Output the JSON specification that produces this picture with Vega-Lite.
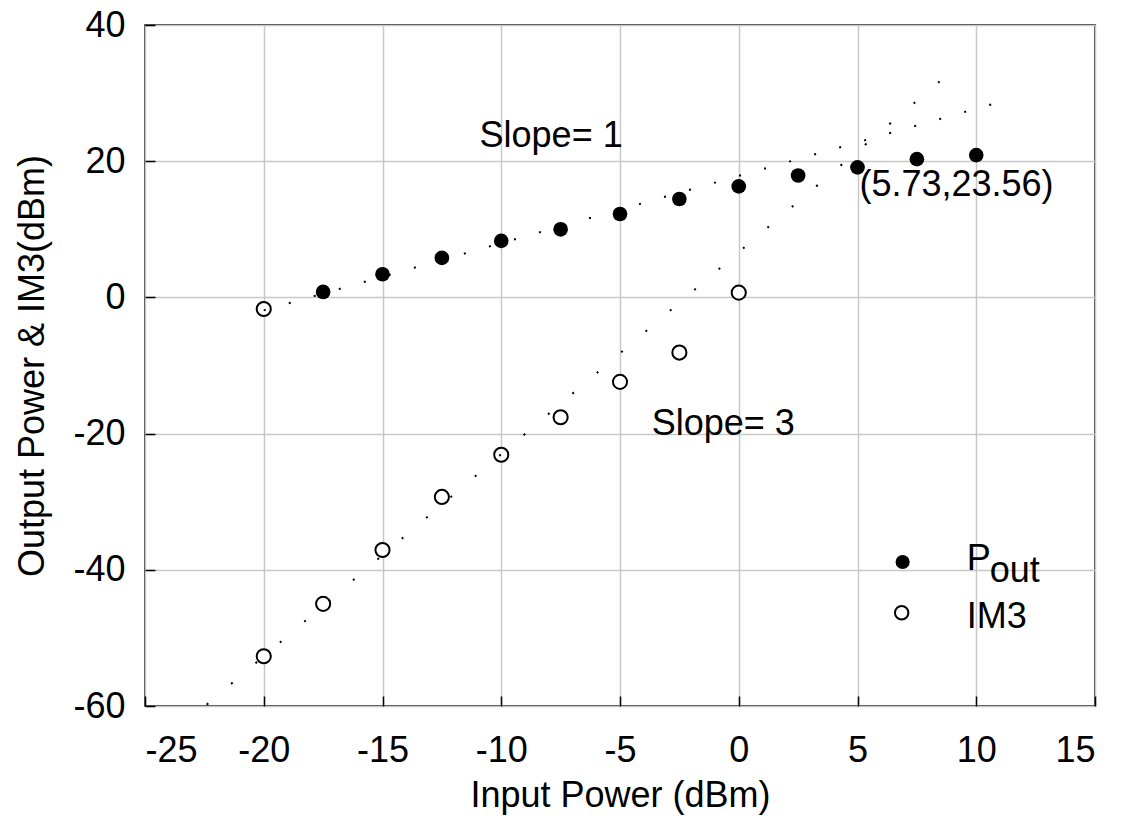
{
  "$schema": "https://vega.github.io/schema/vega-lite/v6.json",
  "width": 950,
  "height": 681,
  "autosize": "none",
  "padding": {"left": 145, "top": 25, "right": 26, "bottom": 128},
  "background": "white",
  "config": {
    "font": "Liberation Sans",
    "view": {"stroke": "black", "strokeWidth": 1.5},
    "axis": {
      "gridColor": "#c8c8c8",
      "gridWidth": 1.5,
      "gridOpacity": 1,
      "domain": false,
      "ticks": true,
      "tickColor": "black",
      "tickWidth": 1.5,
      "tickSize": 10,
      "tickOpacity": 1,
      "labelFontSize": 36,
      "labelColor": "black",
      "titleFontSize": 36,
      "titleFontWeight": "normal",
      "titleColor": "black"
    },
    "text": {"font": "Liberation Sans", "fontSize": 36, "color": "black"}
  },
  "datasets": {
    "pout": [
      {"pin": -17.5, "pout": 0.8},
      {"pin": -15, "pout": 3.4},
      {"pin": -12.5, "pout": 5.8},
      {"pin": -10, "pout": 8.3},
      {"pin": -7.5, "pout": 10.0},
      {"pin": -5, "pout": 12.25},
      {"pin": -2.5, "pout": 14.45},
      {"pin": 0, "pout": 16.3},
      {"pin": 2.5, "pout": 17.9},
      {"pin": 5, "pout": 19.1},
      {"pin": 7.5, "pout": 20.3},
      {"pin": 10, "pout": 20.9}
    ],
    "im3": [
      {"pin": -20, "im3": -1.7},
      {"pin": -20, "im3": -52.7},
      {"pin": -17.5, "im3": -45.0},
      {"pin": -15, "im3": -37.1},
      {"pin": -12.5, "im3": -29.3},
      {"pin": -10, "im3": -23.1},
      {"pin": -7.5, "im3": -17.6},
      {"pin": -5, "im3": -12.4},
      {"pin": -2.5, "im3": -8.1},
      {"pin": 0, "im3": 0.7}
    ],
    "fit1": [
      {"pin": -20, "val": -1.9},
      {"pin": 10.8, "val": 28.5}
    ],
    "fit3": [
      {"pin": -22.4, "val": -59.8},
      {"pin": 9.26, "val": 34.1}
    ],
    "notes": [
      {"pin": -7.9, "val": 23.7, "label": "Slope= 1"},
      {"pin": -0.65, "val": -18.6, "label": "Slope= 3"}
    ],
    "notesLeft": [
      {"pin": 5.08, "val": 16.5, "label": "(5.73,23.56)"}
    ],
    "legendText": [
      {"pin": 9.6, "val": -40.03, "label": "P"},
      {"pin": 10.57, "val": -41.8, "label": "out"},
      {"pin": 9.6, "val": -48.55, "label": "IM3"}
    ],
    "legendFilled": [{"pin": 6.9, "val": -38.85}],
    "legendOpen": [{"pin": 6.86, "val": -46.3}]
  },
  "encoding": {
    "x": {
      "field": "pin",
      "type": "quantitative",
      "scale": {"domain": [-25, 15], "nice": false},
      "axis": {
        "values": [-25, -20, -15, -10, -5, 0, 5, 10, 15],
        "labelExpr": "'' + datum.value",
        "title": "Input Power (dBm)",
        "offset": -10,
        "labelPadding": 27,
        "titlePadding": 10
      }
    }
  },
  "layer": [
    {
      "data": {"name": "pout"},
      "mark": {"type": "point", "shape": "circle", "filled": true, "color": "black", "size": 215, "opacity": 1},
      "encoding": {
        "y": {
          "field": "pout",
          "type": "quantitative",
          "scale": {"domain": [-60, 40], "nice": false},
          "axis": {
            "values": [-60, -40, -20, 0, 20, 40],
            "labelExpr": "'' + datum.value",
            "title": "Output Power & IM3(dBm)",
            "offset": -10,
            "labelPadding": 20,
            "titlePadding": 21
          }
        }
      }
    },
    {
      "data": {"name": "im3"},
      "mark": {"type": "point", "shape": "circle", "filled": true, "fill": "white", "stroke": "black", "strokeWidth": 2, "size": 200, "opacity": 1},
      "encoding": {"y": {"field": "im3", "type": "quantitative"}}
    },
    {
      "data": {"name": "fit1"},
      "mark": {"type": "line", "color": "black", "strokeWidth": 2, "strokeDash": [2, 24]},
      "encoding": {"y": {"field": "val", "type": "quantitative"}}
    },
    {
      "data": {"name": "fit3"},
      "mark": {"type": "line", "color": "black", "strokeWidth": 2, "strokeDash": [2, 30]},
      "encoding": {"y": {"field": "val", "type": "quantitative"}}
    },
    {
      "data": {"name": "notes"},
      "mark": {"type": "text", "align": "center", "baseline": "middle"},
      "encoding": {"y": {"field": "val", "type": "quantitative"}, "text": {"field": "label"}}
    },
    {
      "data": {"name": "notesLeft"},
      "mark": {"type": "text", "align": "left", "baseline": "middle"},
      "encoding": {"y": {"field": "val", "type": "quantitative"}, "text": {"field": "label"}}
    },
    {
      "data": {"name": "legendText"},
      "mark": {"type": "text", "align": "left", "baseline": "alphabetic"},
      "encoding": {"y": {"field": "val", "type": "quantitative"}, "text": {"field": "label"}}
    },
    {
      "data": {"name": "legendFilled"},
      "mark": {"type": "point", "shape": "circle", "filled": true, "color": "black", "size": 200, "opacity": 1},
      "encoding": {"y": {"field": "val", "type": "quantitative"}}
    },
    {
      "data": {"name": "legendOpen"},
      "mark": {"type": "point", "shape": "circle", "filled": true, "fill": "white", "stroke": "black", "strokeWidth": 2, "size": 180, "opacity": 1},
      "encoding": {"y": {"field": "val", "type": "quantitative"}}
    }
  ]
}
